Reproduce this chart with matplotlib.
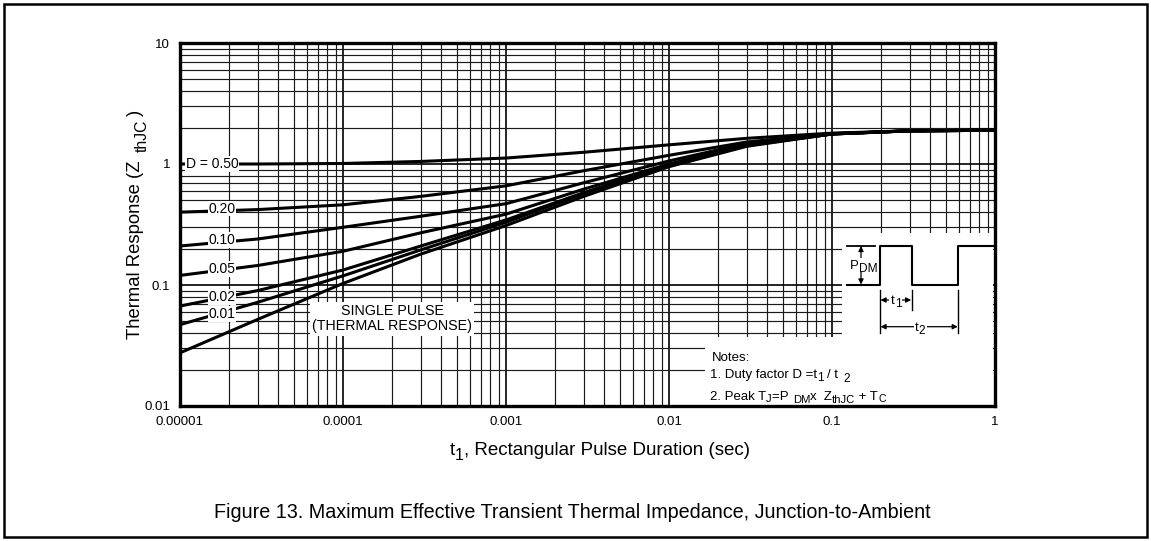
import numpy as np
import matplotlib
matplotlib.use('Agg')
import matplotlib.pyplot as plt
from matplotlib.patches import Rectangle, FancyArrowPatch
from matplotlib.lines import Line2D
from matplotlib.ticker import FixedLocator, FixedFormatter, LogLocator, NullFormatter

plt.rcParams['font.family'] = ['Liberation Sans', 'DejaVu Sans']

# ---- data ----
t1 = [1e-5, 3e-5, 1e-4, 3e-4, 1e-3, 3e-3, 1e-2, 3e-2, 1e-1, 3e-1, 1.0]
z_d050 = [1.00, 1.00, 1.01, 1.05, 1.12, 1.25, 1.44, 1.63, 1.80, 1.88, 1.90]
z_d020 = [0.40, 0.42, 0.46, 0.54, 0.66, 0.88, 1.18, 1.52, 1.78, 1.88, 1.90]
z_d010 = [0.21, 0.24, 0.30, 0.37, 0.47, 0.70, 1.06, 1.48, 1.78, 1.88, 1.90]
z_d005 = [0.12, 0.145, 0.19, 0.27, 0.385, 0.62, 1.00, 1.45, 1.77, 1.88, 1.90]
z_d002 = [0.067, 0.09, 0.133, 0.21, 0.345, 0.58, 0.98, 1.43, 1.77, 1.88, 1.90]
z_d001 = [0.047, 0.072, 0.119, 0.195, 0.33, 0.57, 0.96, 1.42, 1.77, 1.88, 1.90]
z_single = [0.0275, 0.052, 0.103, 0.18, 0.31, 0.54, 0.95, 1.40, 1.77, 1.88, 1.90]

curve_labels = ['D = 0.50', '0.20', '0.10', '0.05', '0.02', '0.01']
label_x = [1.57e-5, 1.81e-5, 1.81e-5, 1.81e-5, 1.81e-5, 1.81e-5]
label_y = [1.0, 0.428, 0.236, 0.135, 0.080, 0.0575]

x_ticks = [1e-5, 1e-4, 1e-3, 1e-2, 1e-1, 1]
x_tick_labels = ['0.00001', '0.0001', '0.001', '0.01', '0.1', '1']
y_ticks = [0.01, 0.1, 1, 10]
y_tick_labels = ['0.01', '0.1', '1', '10']

W, H = 1151, 541
fig = plt.figure(figsize=(W / 100, H / 100), dpi=100)
fig.patch.set_facecolor('white')
renderer = fig.canvas.get_renderer()


def fx(px):
    return px / W


def fy(py):
    return 1 - py / H


def measure(s, fs):
    t = fig.text(0, 0, s, fontsize=fs)
    w = t.get_window_extent(renderer).width
    t.remove()
    return w


def compose(x, y, parts, fs, ha='left', rotation=0, zorder=7):
    """parts: list of (text, scale, drop_px, gap_after_px). x,y: baseline start (px from top-left)."""
    widths = [measure(s, fs * sc) for s, sc, dr, gp in parts]
    total = sum(widths) + sum(p[3] for p in parts)
    pos = -total / 2 if ha == 'center' else 0.0
    for (s, sc, dr, gp), w in zip(parts, widths):
        if rotation == 0:
            px, py = x + pos, y + dr
        else:
            px, py = x + dr, y - pos
        fig.text(fx(px), fy(py), s, fontsize=fs * sc, ha='left', va='baseline',
                 rotation=rotation, rotation_mode='anchor', zorder=zorder)
        pos += w + gp


ax = fig.add_axes([fx(180), fy(406), 815 / W, 363 / H])
ax.set_xscale('log')
ax.set_yscale('log')
ax.set_xlim(1e-5, 1)
ax.set_ylim(0.01, 10)

ax.xaxis.set_major_locator(FixedLocator(x_ticks))
ax.xaxis.set_major_formatter(FixedFormatter(x_tick_labels))
ax.yaxis.set_major_locator(FixedLocator(y_ticks))
ax.yaxis.set_major_formatter(FixedFormatter(y_tick_labels))
ax.xaxis.set_minor_locator(LogLocator(base=10, subs=np.arange(2, 10), numticks=20))
ax.yaxis.set_minor_locator(LogLocator(base=10, subs=np.arange(2, 10), numticks=20))
ax.xaxis.set_minor_formatter(NullFormatter())
ax.yaxis.set_minor_formatter(NullFormatter())
ax.tick_params(which='both', length=0)
ax.tick_params(axis='x', which='major', pad=7, labelsize=9.5)
ax.tick_params(axis='y', which='major', pad=7, labelsize=9.5)

ax.set_axisbelow(True)
ax.grid(which='major', color='black', lw=1.2)
ax.grid(which='minor', color='#1a1a1a', lw=0.85)
for s in ax.spines.values():
    s.set_linewidth(2.4)

for z in [z_d050, z_d020, z_d010, z_d005, z_d002, z_d001, z_single]:
    ax.plot(t1, z, color='black', lw=2.2, zorder=3, solid_capstyle='butt')

for lab, lx, ly in zip(curve_labels, label_x, label_y):
    ax.text(lx, ly, lab, ha='center', va='center', fontsize=10, zorder=4,
            bbox=dict(fc='white', ec='none', pad=0.6))

ax.text(2.0e-4, 0.0528, 'SINGLE PULSE\n(THERMAL RESPONSE)', ha='center', va='center',
        fontsize=10.3, linespacing=1.15, zorder=4,
        bbox=dict(fc='white', ec='none', pad=1.5))

# white areas for notes & pulse diagram (cover grid)
ax.add_patch(Rectangle((fx(705), fy(406)), fx(993) - fx(705), fy(337) - fy(406),
                       transform=fig.transFigure, fc='white', ec='none', zorder=1))
ax.add_patch(Rectangle((fx(842), fy(337)), fx(993) - fx(842), fy(233) - fy(337),
                       transform=fig.transFigure, fc='white', ec='none', zorder=1))


# pulse diagram
def pline(xs, ys, lw=1.3):
    fig.add_artist(Line2D([fx(x) for x in xs], [fy(y) for y in ys], color='black', lw=lw,
                          transform=fig.transFigure, zorder=6))


pline([846.7, 880, 880, 911.7, 911.7, 958.3, 958.3, 993],
      [285, 285, 245.7, 245.7, 285, 285, 245.7, 245.7], lw=1.5)
pline([846.7, 875], [245.7, 245.7])
pline([880, 880], [290, 333], lw=1.0)
pline([911.7, 911.7], [290, 310], lw=1.0)
pline([958.3, 958.3], [290, 333], lw=1.0)


def arrow(x0, y0, x1, y1):
    fig.add_artist(FancyArrowPatch(
        (fx(x0), fy(y0)), (fx(x1), fy(y1)), transform=fig.transFigure,
        arrowstyle='<|-|>,head_length=3,head_width=1.5', color='black', lw=0.9,
        shrinkA=0, shrinkB=0, zorder=6))


arrow(861, 246, 861, 284.5)
arrow(880.5, 300, 911.2, 300)
arrow(880.5, 326.7, 957.8, 326.7)

# white patches behind dimension texts
for (cx, cy, w, h) in [(864, 265, 24, 14), (896, 300, 13, 12), (920, 327, 13, 12)]:
    fig.add_artist(Rectangle((fx(cx - w / 2), fy(cy + h / 2)), w / W, h / H,
                             transform=fig.transFigure, fc='white', ec='none', zorder=6.5))

compose(864, 269, [('P', 1, 0, 0), ('DM', 0.9, 3.5, 0)], 9.5, ha='center')
compose(896, 304, [('t', 1, 0, 0), ('1', 0.9, 3, 0)], 9.5, ha='center')
compose(920, 331, [('t', 1, 0, 0), ('2', 0.9, 3, 0)], 9.5, ha='center')

# notes
compose(712, 360.7, [('Notes:', 1, 0, 0)], 9.5)
compose(710, 378, [('1. Duty factor D =t', 1, 0, 0), ('1', 0.9, 3, 3),
                   ('/ t ', 1, 0, 2), ('2', 0.9, 3.5, 0)], 9.5)
compose(710, 400, [('2. Peak T', 1, 0, 0), ('J', 0.85, 2.5, 0), ('=P ', 1, 0, 1),
                   ('DM', 0.85, 3, 0), ('x  Z', 1, 0, 0), ('thJC', 0.85, 3, 0),
                   (' + T', 1, 0, 0), ('C', 0.8, 1.5, 0)], 9.5)

# axis labels
compose(600, 455, [('t', 1, 0, 0), ('1', 0.85, 5, 0),
                   (', Rectangular Pulse Duration (sec)', 1, 0, 0)], 13.5, ha='center')
compose(140, 224, [('Thermal Response (Z ', 1, 0, 3), ('thJC', 0.85, 7, 4), (')', 1, 0, 0)],
        13.3, ha='center', rotation=90)

# caption
fig.text(fx(572), fy(518),
         'Figure 13. Maximum Effective Transient Thermal Impedance, Junction-to-Ambient',
         ha='center', va='baseline', fontsize=14.2)

# outer border
fig.add_artist(Rectangle((fx(4), fy(537)), fx(1147) - fx(4), fy(4) - fy(537),
                         transform=fig.transFigure, fill=False, ec='black', lw=1.8))

fig.savefig('out.png', dpi=100)
